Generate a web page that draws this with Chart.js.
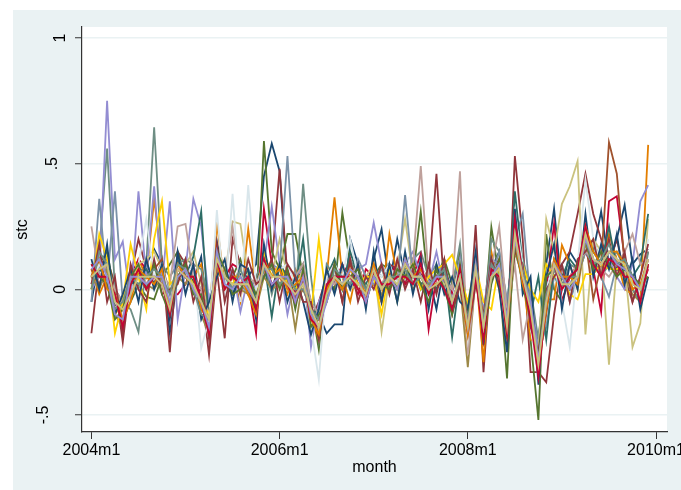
<!DOCTYPE html>
<html>
<head>
<meta charset="utf-8">
<script src="https://cdn.jsdelivr.net/npm/chart.js@4.4.0/dist/chart.umd.min.js"></script>
<style>
  html, body { margin: 0; padding: 0; background: #fff; }
  #wrap { width: 681px; height: 490px; }
</style>
</head>
<body>
<div id="wrap"><canvas id="stc"></canvas></div>
<script>
// months run 2004m1 .. 2009m12, x = months since 2004m1
var xTickValues = [0, 24, 48, 72];
var xTickLabels = ['2004m1', '2006m1', '2008m1', '2010m1'];
var yTickValues = [-0.5, 0, 0.5, 1];
var yTickLabels = ['-.5', '0', '.5', '1'];

var s1 = [-0.05, 0.12, 0.04, -0.06, -0.08, 0.02, 0.06, 0.1, 0.16, 0.1, -0.175, 0.05,
  0.08, 0.03, 0.13, -0.17, 0.19, 0.02, -0.02, 0.06, 0.05, 0.1, 0.45, 0.58,
  0.47, 0.02, -0.05, 0.08, -0.05, -0.1, -0.175, -0.14, -0.14, 0.2, 0.1, 0.0,
  0.12, 0.24, 0.02, 0.2, 0.05, 0.1, 0.0, 0.06, -0.08, 0.1, -0.02, 0.12,
  -0.1, 0.05, -0.12, 0.08, 0.15, -0.2, 0.2, 0.1, -0.1, -0.2, 0.1, 0.32,
  0.0, 0.15, 0.1, 0.2, 0.15, 0.31, 0.1, 0.2, 0.335, 0.1, 0.14, 0.16];
var s2 = [-0.175, 0.1, 0.12, 0.02, -0.21, 0.05, 0.2, 0.08, 0.02, 0.12, -0.25, 0.15,
  0.1, -0.02, 0.0, -0.26, 0.08, -0.195, 0.2, 0.1, -0.02, 0.05, 0.08, 0.1,
  0.48, 0.05, 0.02, 0.1, -0.12, -0.05, 0.05, 0.1, -0.05, 0.12, 0.02, 0.05,
  0.06, -0.05, 0.1, 0.08, 0.02, 0.12, 0.06, 0.05, 0.46, 0.0, -0.02, 0.08,
  -0.2, 0.256, -0.33, 0.1, 0.05, -0.2, 0.53, 0.2, -0.33, -0.33, -0.37, -0.1,
  0.1, 0.15, 0.3, 0.46, 0.3, 0.2, 0.1, 0.2, 0.05, -0.05, 0.05, 0.15];
var s3 = [0.0, 0.1, 0.15, -0.02, -0.12, -0.05, 0.02, -0.03, -0.04, 0.05, 0.1, 0.15,
  0.05, 0.08, -0.05, -0.1, 0.12, 0.0, 0.05, 0.12, 0.0, -0.08, 0.59, 0.15,
  0.08, 0.22, 0.22, 0.05, -0.05, -0.24, 0.05, 0.0, 0.305, 0.1, 0.08, -0.05,
  0.05, 0.1, 0.08, -0.05, 0.1, 0.05, 0.31, 0.0, 0.05, 0.12, 0.02, 0.15,
  -0.1, 0.05, -0.15, 0.247, 0.05, -0.355, 0.28, 0.1, -0.2, -0.52, 0.22, 0.0,
  -0.05, 0.05, 0.05, 0.15, 0.2, 0.1, 0.12, 0.08, 0.05, 0.0, -0.05, 0.1];
var s4 = [0.08, -0.02, 0.05, -0.1, -0.05, 0.02, 0.12, 0.05, 0.36, 0.1, -0.05, 0.05,
  0.08, 0.05, 0.1, -0.1, 0.26, 0.02, 0.05, -0.05, 0.24, 0.0, 0.08, 0.0,
  0.05, -0.02, 0.08, 0.02, -0.1, -0.2, 0.05, 0.366, 0.05, -0.05, 0.1, 0.0,
  0.02, -0.05, 0.22, 0.05, 0.08, 0.1, 0.05, 0.02, 0.0, 0.05, -0.05, 0.1,
  -0.24, 0.08, -0.29, 0.15, 0.0, -0.2, 0.2, 0.05, -0.2, -0.22, -0.04, -0.04,
  0.176, 0.1, 0.0, 0.2, 0.1, 0.05, 0.22, 0.12, 0.0, -0.02, -0.04, 0.575];
var s5 = [0.05, 0.15, 0.56, 0.0, -0.05, -0.08, -0.17, 0.1, 0.645, 0.1, 0.05, 0.1,
  0.12, 0.1, 0.08, -0.05, 0.12, 0.0, 0.06, 0.02, -0.02, 0.05, 0.12, -0.02,
  0.1, 0.05, -0.05, 0.42, 0.05, -0.2, 0.1, 0.05, 0.0, 0.12, 0.05, 0.02,
  0.05, 0.08, 0.02, 0.1, 0.05, 0.12, 0.15, 0.05, 0.1, 0.02, 0.0, 0.18,
  -0.15, 0.12, -0.12, 0.2, 0.15, -0.05, 0.2, 0.12, 0.0, -0.2, 0.05, 0.05,
  0.0, 0.1, 0.08, 0.25, 0.12, 0.05, 0.1, 0.15, 0.08, 0.0, -0.05, 0.15];
var s6 = [0.05, 0.12, 0.02, -0.05, -0.1, 0.05, 0.12, 0.08, 0.02, 0.05, -0.02, -0.02,
  0.02, 0.1, -0.05, -0.15, 0.08, 0.05, 0.1, 0.08, 0.02, -0.175, 0.32, 0.1,
  0.05, 0.08, -0.02, 0.05, -0.12, -0.1, 0.05, 0.02, 0.1, 0.05, -0.02, 0.08,
  0.05, 0.02, 0.06, 0.1, 0.02, 0.05, 0.14, -0.16, 0.05, 0.08, -0.02, 0.1,
  -0.12, 0.1, -0.18, 0.05, 0.12, -0.1, 0.3, 0.05, -0.1, -0.3, 0.0, 0.26,
  -0.05, 0.05, 0.1, 0.15, 0.08, -0.09, 0.35, 0.37, 0.12, 0.05, 0.0, 0.08];
var s7 = [0.0, 0.05, 0.75, 0.12, 0.19, -0.05, 0.39, 0.05, 0.41, 0.02, 0.35, -0.12,
  0.08, 0.36, 0.25, -0.05, 0.1, 0.02, 0.08, -0.09, 0.05, 0.0, 0.1, 0.33,
  0.1, -0.1, 0.05, 0.08, -0.23, -0.05, 0.02, 0.1, 0.05, 0.0, 0.08, 0.1,
  0.265, 0.1, 0.02, 0.05, 0.1, 0.15, 0.05, 0.02, 0.15, 0.0, -0.05, 0.12,
  -0.1, 0.05, -0.08, 0.12, 0.1, -0.1, 0.15, 0.05, -0.02, -0.25, 0.0, 0.1,
  0.05, 0.02, 0.08, 0.15, 0.1, 0.05, 0.12, 0.05, 0.0, 0.1, 0.35, 0.415];
var s8 = [0.1, 0.05, 0.08, -0.02, -0.05, 0.05, 0.1, 0.12, 0.15, 0.08, 0.0, 0.05,
  0.1, 0.15, 0.02, -0.08, 0.1, 0.05, 0.27, 0.26, 0.05, -0.02, 0.12, 0.05,
  0.2, 0.05, 0.0, 0.08, -0.1, -0.16, 0.02, 0.05, 0.08, 0.0, 0.02, 0.05,
  0.1, -0.17, 0.05, 0.08, 0.28, 0.05, 0.1, 0.0, 0.05, 0.02, 0.0, 0.08,
  -0.2, 0.05, -0.15, 0.08, 0.1, -0.12, 0.15, 0.1, -0.1, -0.25, 0.28, 0.15,
  0.34, 0.41, 0.51, -0.18, 0.2, 0.15, -0.3, 0.1, 0.1, -0.23, -0.135, 0.28];
var s9 = [0.08, 0.02, 0.1, -0.08, -0.05, 0.02, 0.05, 0.0, 0.08, 0.12, -0.05, 0.08,
  0.05, 0.0, -0.08, -0.12, 0.1, 0.05, 0.02, 0.0, 0.05, -0.05, 0.12, 0.08,
  0.02, 0.06, -0.05, 0.0, -0.08, -0.12, 0.02, 0.08, 0.05, 0.1, 0.0, -0.02,
  0.1, 0.02, 0.0, 0.05, 0.12, 0.02, 0.08, 0.05, 0.0, 0.08, -0.08, 0.02,
  -0.12, 0.1, -0.2, 0.05, 0.1, -0.15, 0.25, 0.08, -0.05, -0.3, -0.1, 0.12,
  0.05, 0.0, 0.08, 0.2, -0.04, 0.1, 0.585, 0.46, 0.1, 0.0, 0.02, 0.12];
var s10 = [-0.05, 0.36, 0.02, 0.39, -0.05, 0.05, 0.0, 0.1, 0.05, 0.08, -0.02, 0.05,
  0.1, 0.05, 0.0, -0.1, 0.15, 0.08, 0.0, 0.1, 0.02, -0.02, 0.05, 0.1,
  0.08, 0.53, 0.05, 0.1, -0.12, -0.1, -0.02, 0.05, 0.08, 0.02, 0.12, 0.05,
  0.02, 0.08, 0.05, 0.02, 0.375, 0.05, 0.1, 0.02, 0.05, 0.1, -0.05, 0.05,
  -0.15, 0.12, -0.1, 0.05, 0.15, -0.05, 0.2, 0.3, -0.05, -0.25, -0.15, 0.05,
  0.1, -0.05, 0.05, 0.15, 0.1, 0.05, -0.03, 0.1, 0.12, 0.02, 0.0, 0.1];
var s11 = [0.02, 0.08, 0.05, -0.05, -0.08, 0.02, 0.05, 0.08, 0.02, 0.1, -0.08, 0.12,
  0.05, 0.13, 0.31, -0.14, 0.1, 0.0, 0.05, 0.02, 0.08, -0.05, 0.12, -0.11,
  0.1, 0.05, 0.0, 0.2, -0.1, -0.08, 0.05, 0.12, 0.0, 0.15, 0.05, 0.02,
  0.08, 0.05, 0.1, 0.0, 0.05, 0.08, 0.02, 0.05, 0.0, 0.08, -0.19, 0.05,
  -0.08, 0.1, -0.12, 0.08, 0.05, -0.15, 0.39, 0.1, -0.1, 0.05, -0.2, 0.1,
  0.05, 0.12, 0.08, 0.2, 0.15, 0.1, 0.25, 0.08, 0.12, 0.05, 0.1, 0.3];
var s12 = [0.05, 0.0, 0.08, -0.1, -0.15, 0.02, 0.08, 0.02, 0.0, 0.05, -0.1, 0.05,
  0.02, 0.08, -0.1, -0.18, 0.08, 0.02, 0.05, 0.0, -0.02, -0.08, 0.05, 0.0,
  0.02, 0.05, -0.16, 0.05, -0.15, -0.12, 0.0, 0.05, 0.02, 0.08, 0.0, -0.05,
  0.05, -0.02, 0.02, 0.05, 0.08, 0.0, 0.05, -0.02, 0.02, 0.05, -0.08, 0.02,
  -0.31, 0.05, -0.18, 0.05, 0.1, -0.2, 0.15, 0.05, -0.1, -0.35, -0.05, 0.08,
  0.0, 0.05, 0.02, 0.18, 0.1, 0.08, 0.12, 0.1, 0.05, -0.02, -0.05, 0.1];
var s13 = [0.25, 0.05, 0.1, 0.0, -0.05, 0.05, 0.1, 0.02, 0.08, 0.05, 0.02, 0.25,
  0.26, 0.05, 0.0, -0.1, 0.1, 0.05, 0.25, 0.0, 0.05, 0.02, 0.1, 0.05,
  0.08, 0.0, 0.05, 0.1, -0.05, -0.1, 0.05, 0.02, 0.08, 0.05, 0.1, 0.0,
  0.05, 0.02, 0.08, 0.05, 0.1, 0.1, 0.49, 0.05, 0.02, 0.05, 0.0, 0.47,
  -0.26, 0.05, -0.1, 0.08, 0.25, -0.1, 0.1, -0.2, -0.05, -0.28, 0.05, 0.1,
  0.0, 0.05, 0.1, 0.15, 0.12, 0.08, 0.05, 0.1, 0.15, 0.22, 0.1, 0.12];
var s14 = [0.0, 0.22, 0.12, -0.175, -0.05, 0.18, 0.05, -0.08, 0.2, 0.35, 0.02, 0.05,
  0.08, 0.02, -0.05, -0.1, 0.1, 0.05, 0.02, 0.08, 0.0, -0.05, 0.15, 0.05,
  0.1, 0.02, 0.0, 0.05, -0.1, 0.2, -0.05, 0.05, 0.0, 0.08, 0.02, 0.05,
  0.05, -0.1, 0.08, 0.02, 0.05, 0.1, 0.0, 0.05, 0.08, 0.1, 0.137, 0.05,
  -0.05, 0.1, -0.05, -0.08, 0.1, -0.12, 0.2, 0.1, 0.0, -0.05, 0.1, 0.05,
  0.05, -0.02, -0.04, 0.06, 0.06, 0.1, 0.08, 0.08, 0.1, 0.03, 0.0, 0.1];
var s15 = [0.02, 0.1, 0.05, -0.05, -0.1, 0.05, 0.1, 0.28, 0.05, 0.1, -0.05, 0.08,
  0.05, 0.1, -0.235, -0.12, 0.315, -0.05, 0.38, -0.05, 0.415, 0.0, 0.1, 0.05,
  0.08, 0.1, 0.02, 0.05, -0.15, -0.36, 0.05, 0.1, 0.05, 0.2, 0.05, 0.0,
  0.08, 0.05, 0.1, 0.02, 0.15, 0.05, 0.1, 0.02, 0.05, 0.08, -0.05, 0.1,
  -0.2, 0.1, -0.15, 0.1, 0.05, -0.2, 0.3, 0.1, -0.15, -0.35, 0.0, 0.1,
  -0.05, -0.23, 0.1, 0.435, 0.2, 0.1, 0.15, 0.12, 0.1, 0.05, 0.02, 0.2];
var s16 = [0.12, 0.0, 0.18, -0.1, -0.02, 0.08, -0.05, 0.12, 0.0, 0.1, -0.12, 0.15,
  -0.02, 0.1, -0.12, -0.05, 0.05, 0.12, -0.05, 0.1, 0.08, -0.12, 0.18, 0.0,
  0.1, -0.05, 0.05, -0.05, -0.18, -0.08, 0.08, -0.02, 0.1, 0.0, 0.1, -0.08,
  0.15, -0.05, 0.1, -0.05, 0.15, -0.02, 0.12, -0.08, 0.1, -0.02, 0.05, -0.05,
  -0.08, 0.15, -0.22, 0.12, 0.0, -0.25, 0.32, -0.02, 0.05, -0.38, 0.05, 0.18,
  -0.08, 0.1, 0.0, 0.3, 0.05, 0.18, 0.08, 0.22, 0.02, 0.12, -0.08, 0.05];
var s17 = [0.02, 0.18, -0.05, 0.05, -0.18, 0.1, 0.0, -0.05, 0.12, -0.02, 0.0, 0.02,
  0.12, -0.05, 0.05, -0.2, 0.18, -0.05, 0.08, -0.02, 0.12, 0.02, 0.05, 0.12,
  -0.05, 0.1, 0.05, -0.05, -0.05, -0.2, 0.0, 0.1, -0.05, 0.12, -0.05, 0.05,
  0.0, 0.1, -0.02, 0.12, 0.0, 0.08, -0.05, 0.1, -0.02, 0.12, -0.1, 0.02,
  -0.18, 0.02, -0.1, 0.12, 0.02, -0.1, 0.15, 0.1, -0.15, -0.25, 0.0, 0.05,
  0.1, -0.05, 0.12, 0.15, 0.2, 0.05, 0.2, 0.05, 0.15, -0.05, 0.05, 0.18];
var s18 = [0.1, 0.05, 0.02, -0.12, -0.08, 0.05, 0.1, 0.0, 0.1, -0.02, -0.1, 0.05,
  0.1, -0.02, -0.02, -0.18, 0.15, 0.08, -0.02, 0.0, 0.05, -0.02, 0.05, 0.1,
  0.0, 0.08, -0.08, 0.08, -0.15, -0.1, -0.05, 0.1, 0.0, 0.05, 0.08, 0.0,
  0.05, 0.02, 0.0, 0.08, 0.05, 0.1, 0.02, -0.05, 0.08, 0.0, -0.1, 0.1,
  -0.12, 0.1, -0.2, 0.02, 0.12, -0.2, 0.18, 0.02, -0.12, -0.28, 0.05, 0.08,
  0.05, 0.0, 0.1, 0.2, 0.08, 0.15, 0.1, 0.05, 0.08, 0.05, 0.02, 0.05];
var s19 = [0.05, 0.12, 0.0, -0.02, -0.12, -0.05, 0.08, 0.05, 0.02, 0.08, -0.08, 0.1,
  0.05, 0.05, -0.08, -0.12, 0.1, 0.0, 0.05, 0.05, -0.02, -0.1, 0.12, 0.05,
  0.08, 0.0, 0.02, 0.05, -0.12, -0.18, 0.0, 0.05, 0.0, 0.08, 0.05, -0.02,
  0.1, 0.0, 0.05, 0.0, 0.12, 0.05, 0.08, 0.02, 0.02, 0.05, -0.05, 0.05,
  -0.18, 0.08, -0.12, 0.05, 0.08, -0.15, 0.2, 0.02, -0.08, -0.32, -0.08, 0.12,
  0.05, 0.05, 0.02, 0.25, 0.15, 0.1, 0.15, 0.15, 0.1, 0.0, 0.02, 0.12];
var s20 = [0.0, 0.15, 0.1, -0.08, -0.05, 0.05, 0.02, 0.05, 0.08, 0.05, -0.02, 0.1,
  0.08, 0.0, -0.1, -0.12, 0.1, 0.05, 0.0, 0.08, 0.0, -0.05, 0.08, 0.08,
  0.02, 0.05, 0.0, 0.0, -0.08, -0.12, -0.05, 0.08, 0.05, 0.02, 0.05, 0.0,
  0.05, 0.02, 0.05, 0.05, 0.08, 0.02, 0.05, 0.02, 0.05, 0.08, -0.05, 0.05,
  -0.12, 0.05, -0.12, 0.1, 0.05, -0.12, 0.25, 0.08, -0.05, -0.3, -0.02, 0.08,
  0.02, 0.05, 0.05, 0.2, 0.1, 0.12, 0.18, 0.1, 0.12, 0.05, 0.0, 0.1];
var s21 = [0.1, 0.05, 0.05, -0.02, -0.15, 0.02, 0.08, 0.0, 0.05, 0.02, -0.1, 0.08,
  0.05, 0.05, -0.05, -0.18, 0.12, 0.0, 0.05, 0.02, 0.05, -0.08, 0.12, 0.02,
  0.05, 0.02, -0.05, 0.05, -0.12, -0.15, 0.02, 0.05, 0.05, 0.05, 0.0, -0.05,
  0.08, 0.02, 0.02, 0.05, 0.05, 0.02, 0.1, -0.02, 0.05, 0.0, -0.08, 0.08,
  -0.15, 0.05, -0.2, 0.08, 0.05, -0.18, 0.28, 0.05, -0.12, -0.35, -0.05, 0.1,
  0.0, 0.05, 0.08, 0.25, 0.1, 0.05, 0.12, 0.1, 0.05, 0.05, -0.05, 0.1];
var s22 = [0.08, 0.12, 0.05, -0.1, -0.12, 0.05, 0.05, 0.02, 0.05, 0.05, -0.05, 0.05,
  0.08, 0.0, -0.05, -0.15, 0.15, 0.02, 0.0, 0.05, 0.0, -0.05, 0.1, 0.02,
  0.05, 0.05, -0.05, 0.05, -0.1, -0.15, -0.05, 0.05, 0.02, 0.08, 0.05, -0.05,
  0.05, 0.0, 0.05, 0.0, 0.12, 0.05, 0.05, 0.0, 0.05, 0.05, -0.05, 0.05,
  -0.15, 0.1, -0.15, 0.05, 0.1, -0.12, 0.2, 0.05, -0.05, -0.28, -0.05, 0.1,
  0.05, 0.0, 0.05, 0.2, 0.12, 0.1, 0.15, 0.1, 0.08, 0.05, 0.0, 0.12];
var s23 = [0.05, 0.08, 0.1, -0.05, -0.08, -0.02, 0.05, 0.05, 0.05, 0.02, -0.08, 0.08,
  0.05, 0.02, -0.05, -0.12, 0.12, 0.05, 0.02, 0.02, 0.02, -0.05, 0.1, 0.05,
  0.05, 0.02, -0.02, 0.02, -0.08, -0.15, -0.02, 0.05, 0.02, 0.05, 0.02, -0.02,
  0.08, 0.0, 0.05, 0.02, 0.1, 0.05, 0.05, 0.0, 0.02, 0.05, -0.05, 0.05,
  -0.15, 0.08, -0.15, 0.05, 0.08, -0.15, 0.22, 0.05, -0.08, -0.3, -0.05, 0.1,
  0.02, 0.02, 0.05, 0.22, 0.12, 0.1, 0.15, 0.12, 0.1, 0.02, 0.0, 0.12];

var seriesValues = [s1, s2, s3, s4, s5, s6, s7, s8, s9, s10, s11, s12, s13, s14, s15,
  s16, s17, s18, s19, s20, s21, s22, s23];
// stata s2color order, cycling
var palette = ['#1a476f', '#90353b', '#55752f', '#e37e00', '#6e8e84',
  '#c10534', '#938dd2', '#cac27e', '#a0522d', '#7b92a8',
  '#2d6d66', '#9c8847', '#bfa19c', '#ffd200', '#d9e6eb'];

var datasets = seriesValues.map(function (vals, k) {
  return {
    label: 'stc' + (k + 1),
    data: vals.map(function (v, i) { return { x: i, y: v }; }),
    borderColor: palette[k % palette.length],
    borderWidth: 1.8,
    pointRadius: 0,
    fill: false,
    tension: 0,
    order: seriesValues.length - k   // later series on top, like stata
  };
});

var fontFam = '"Liberation Sans", Arial, sans-serif';

var background = {
  id: 'background',
  beforeDraw: function (chart) {
    var ctx = chart.ctx, a = chart.chartArea;
    ctx.save();
    ctx.fillStyle = '#ffffff';
    ctx.fillRect(0, 0, chart.width, chart.height);
    ctx.fillStyle = '#eaf2f3';
    ctx.fillRect(13, 10, chart.width - 13, chart.height - 10);
    ctx.fillStyle = '#ffffff';
    ctx.fillRect(a.left, a.top, a.right - a.left, a.bottom - a.top);
    ctx.restore();
  }
};

// rotated y labels, stata style
var yLabels = {
  id: 'yLabels',
  afterDraw: function (chart) {
    var ctx = chart.ctx, y = chart.scales.y;
    ctx.save();
    ctx.font = '16px ' + fontFam;
    ctx.fillStyle = '#000';
    ctx.textAlign = 'center';
    ctx.textBaseline = 'middle';
    yTickValues.forEach(function (v, i) {
      var txt = yTickLabels[i];
      var w = ctx.measureText(txt).width;
      var px = 61 - 1.8 * (w - ctx.measureText('0').width);
      ctx.save();
      ctx.translate(px, y.getPixelForValue(v));
      ctx.rotate(-Math.PI / 2);
      ctx.fillText(txt, 0, 0);
      ctx.restore();
    });
    ctx.restore();
  }
};

new Chart(document.getElementById('stc'), {
  type: 'line',
  data: { datasets: datasets },
  options: {
    responsive: true,
    maintainAspectRatio: false,
    animation: false,
    layout: { padding: { top: 27, right: 14, bottom: 0, left: 0 } },
    plugins: { legend: { display: false }, tooltip: { enabled: false } },
    scales: {
      x: {
        type: 'linear',
        min: -1.2,
        max: 73.4,
        afterBuildTicks: function (scale) {
          scale.ticks = xTickValues.map(function (v) { return { value: v }; });
        },
        afterFit: function (scale) {
          scale.height = 58;
          scale.paddingLeft = 0;
          scale.paddingRight = 0;
        },
        ticks: {
          autoSkip: false,
          maxRotation: 0,
          minRotation: 0,
          padding: 2,
          color: '#000',
          font: { family: fontFam, size: 16 },
          callback: function (v) {
            var i = xTickValues.indexOf(v);
            return i >= 0 ? xTickLabels[i] : '';
          }
        },
        grid: { display: true, drawOnChartArea: false, drawTicks: true, tickLength: 7, tickColor: '#333', tickWidth: 1 },
        border: { display: true, color: '#333', width: 1.2 },
        title: { display: true, text: 'month', color: '#000', font: { family: fontFam, size: 16 }, padding: { top: 0, bottom: 13 } }
      },
      y: {
        min: -0.568,
        max: 1.044,
        afterBuildTicks: function (scale) {
          scale.ticks = yTickValues.map(function (v) { return { value: v }; });
        },
        afterFit: function (scale) {
          scale.width = 82;
          scale.paddingTop = 0;
          scale.paddingBottom = 0;
        },
        ticks: { display: false },
        grid: { color: '#eaf2f3', lineWidth: 1.5, drawTicks: true, tickLength: 7, tickColor: '#333', tickWidth: 1 },
        border: { display: true, color: '#333', width: 1.2 },
        title: { display: true, text: 'stc', color: '#000', font: { family: fontFam, size: 16 }, padding: { top: 13, bottom: 0 } }
      }
    }
  },
  plugins: [background, yLabels]
});
</script>
</body>
</html>
